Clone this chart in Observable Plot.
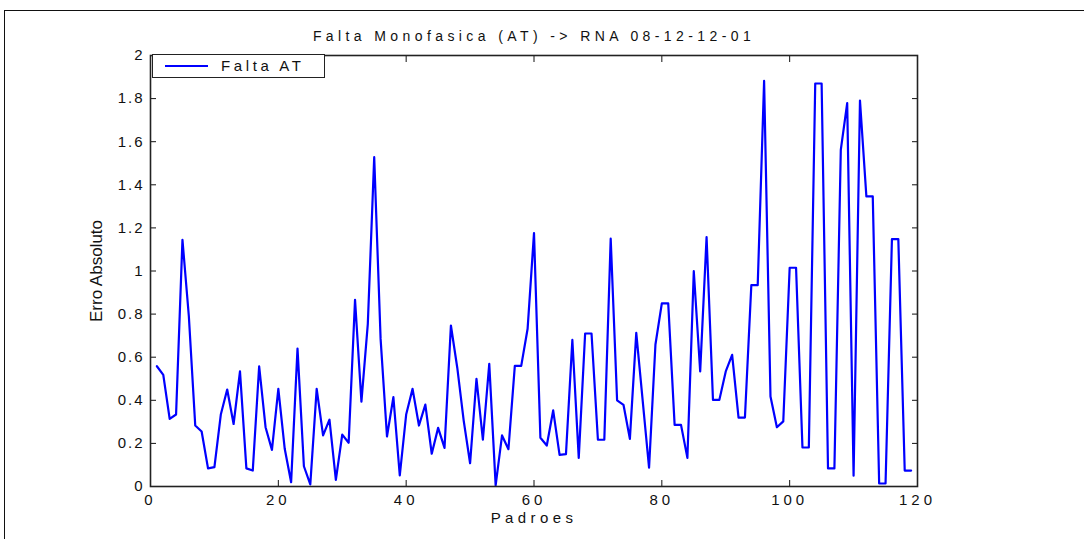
<!DOCTYPE html>
<html><head><meta charset="utf-8">
<script src="https://cdn.jsdelivr.net/npm/d3@7"></script>
<script src="https://cdn.jsdelivr.net/npm/@observablehq/plot@0.6"></script>
<style>
html,body{margin:0;padding:0;background:#fff;}
#wrap{position:relative;width:1084px;height:539px;overflow:hidden;background:#fff;}
#border{position:absolute;left:4px;top:10px;width:1200px;height:700px;border-top:1px solid #111;border-left:1px solid #111;}
#chart{position:absolute;left:0;top:0;}
#chart g[aria-label="x-axis tick label"] text{letter-spacing:4px;}
#chart g[aria-label="y-axis tick label"] text{letter-spacing:2px;}
#chart .ttl text{letter-spacing:4.4px;}
#chart .xlab text{letter-spacing:4.4px;}
#chart .ylab text{letter-spacing:0px;}
#legend{position:absolute;left:152px;top:54px;width:171px;height:22px;border:1.5px solid #222;background:#fff;font-family:"Liberation Sans",Arial,sans-serif;font-size:15px;letter-spacing:3.6px;color:#111;}
#legend .ln{position:absolute;left:12px;top:10px;width:43px;height:2px;background:#0000ff;}
#legend .tx{position:absolute;left:68px;top:2px;}
</style></head>
<body><div id="wrap"><div id="border"></div><div id="chart"></div><div id="legend"><div class="ln"></div><div class="tx"></div></div></div>
<script>
const title = "Falta Monofasica (AT) -> RNA 08-12-12-01";
const xLabel = "Padroes";
const yLabel = "Erro Absoluto";
const seriesName = "Falta AT";
const xTicks = [0, 20, 40, 60, 80, 100, 120];
const yTicks = [0, 0.2, 0.4, 0.6, 0.8, 1, 1.2, 1.4, 1.6, 1.8, 2];
const padroes = d3.range(1, 120);
const erro = [
 0.558, 0.518, 0.314, 0.334, 1.145, 0.79, 0.283, 0.255, 0.084, 0.09,
 0.334, 0.45, 0.29, 0.534, 0.084, 0.074, 0.558, 0.275, 0.17, 0.453,
 0.175, 0.02, 0.64, 0.094, 0.01, 0.453, 0.237, 0.31, 0.031, 0.241,
 0.203, 0.866, 0.394, 0.755, 1.528, 0.685, 0.232, 0.415, 0.051, 0.334,
 0.453, 0.283, 0.38, 0.152, 0.272, 0.179, 0.747, 0.55, 0.306, 0.108,
 0.5, 0.217, 0.569, 0.005, 0.237, 0.173, 0.56, 0.56, 0.732, 1.176,
 0.226, 0.19, 0.353, 0.147, 0.15, 0.68, 0.133, 0.71, 0.71, 0.217,
 0.217, 1.15, 0.4, 0.379, 0.221, 0.713, 0.4, 0.087, 0.659, 0.85,
 0.85, 0.286, 0.286, 0.133, 0.999, 0.534, 1.157, 0.402, 0.402, 0.534,
 0.611, 0.32, 0.32, 0.934, 0.934, 1.882, 0.418, 0.275, 0.302, 1.015,
 1.015, 0.181, 0.181, 1.87, 1.87, 0.084, 0.084, 1.562, 1.779, 0.05,
 1.791, 1.346, 1.346, 0.014, 0.014, 1.148, 1.148, 0.074, 0.074
];
const data = padroes.map((p, i) => ({p, e: erro[i]}));
const fmt = d => String(d);
const font = '"Liberation Sans", Arial, sans-serif';
const chart = Plot.plot({
  width: 1084, height: 539,
  marginLeft: 150, marginRight: 167, marginTop: 55, marginBottom: 53,
  x: {domain: [0, 120]},
  y: {domain: [0, 2]},
  style: {fontFamily: font, fontSize: "15px", color: "#111", background: "transparent", overflow: "visible"},
  marks: [
    Plot.axisX(xTicks, {anchor: "bottom", tickSize: -6, tickFormat: () => "", label: null, strokeWidth: 1}),
    Plot.axisX(xTicks, {anchor: "top", tickSize: -6, tickFormat: () => "", label: null, strokeWidth: 1}),
    Plot.axisY(yTicks, {anchor: "left", tickSize: -6, tickFormat: () => "", label: null, strokeWidth: 1}),
    Plot.axisY(yTicks, {anchor: "right", tickSize: -6, tickFormat: () => "", label: null, strokeWidth: 1}),
    Plot.axisX(xTicks, {anchor: "bottom", tickSize: 0, tickPadding: 8, tickFormat: fmt, label: null, fontSize: 15}),
    Plot.axisY(yTicks, {anchor: "left", tickSize: 0, tickPadding: 6, tickFormat: fmt, label: null, fontSize: 15}),
    Plot.line(data, {x: "p", y: "e", stroke: "#0000ff", strokeWidth: 2.2}),
    Plot.frame({stroke: "#222", strokeWidth: 1.6}),
    Plot.text([title], {text: d => d, frameAnchor: "top", dy: -18.5, lineAnchor: "middle", fontSize: 14, fill: "#111", className: "ttl"}),
    Plot.text([xLabel], {text: d => d, frameAnchor: "bottom", dy: 32, lineAnchor: "middle", fontSize: 15, fill: "#111", className: "xlab"}),
    Plot.text([yLabel], {text: d => d, frameAnchor: "left", dx: -54, rotate: -90, textAnchor: "middle", lineAnchor: "middle", fontSize: 17, fill: "#111", className: "ylab"})
  ]
});
document.getElementById("chart").appendChild(chart);
document.querySelector("#legend .tx").textContent = seriesName;
</script></body></html>
